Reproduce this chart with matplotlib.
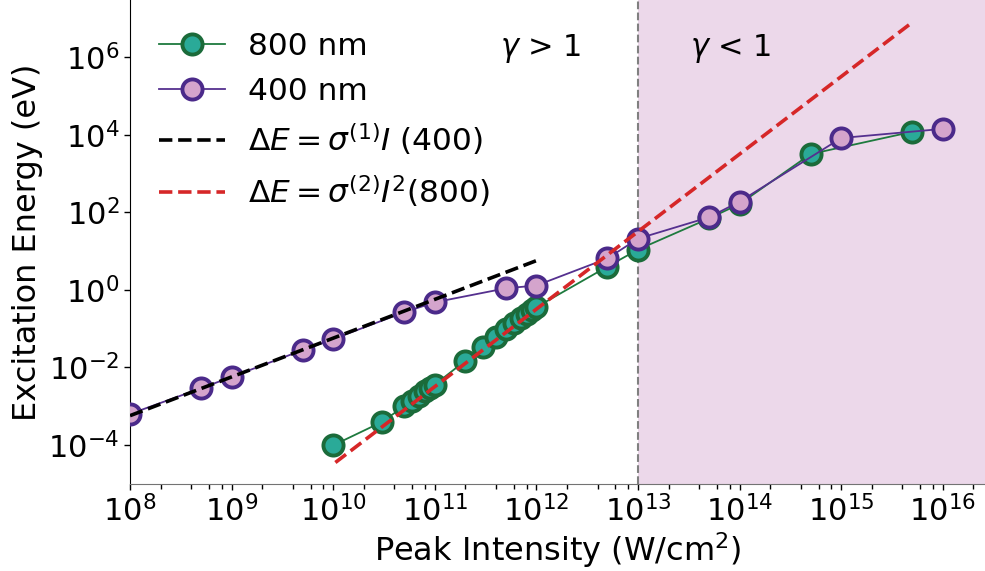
import matplotlib
matplotlib.use("Agg")
from matplotlib import pyplot as plt
from matplotlib.ticker import LogLocator, NullFormatter

# measured excitation energy vs peak intensity, 800 nm pump
intensity_800 = [1e10, 3e10, 5e10, 6e10, 7e10, 8e10, 9e10, 1e11, 2e11, 3e11, 4e11,
                 5e11, 6e11, 7e11, 8e11, 9e11, 1e12, 5e12, 1e13, 5e13, 1e14, 5e14, 5e15]
energy_800 = [9.8e-5, 3.9e-4, 1.0e-3, 1.4e-3, 1.8e-3, 2.4e-3, 2.95e-3, 3.6e-3, 1.5e-2, 3.3e-2, 6.2e-2,
              0.10, 0.14, 0.19, 0.24, 0.30, 0.36, 4.0, 11.0, 70.0, 165.0, 3.2e3, 1.2e4]

# same for 400 nm pump
intensity_400 = [1e8, 5e8, 1e9, 5e9, 1e10, 5e10, 1e11, 5e11, 1e12, 5e12, 1e13, 5e13, 1e14, 1e15, 1e16]
energy_400 = [6.3e-4, 2.9e-3, 5.7e-3, 2.8e-2, 5.4e-2, 0.265, 0.48, 1.1, 1.3, 6.5, 21.0, 75.0, 190.0, 8.3e3, 1.43e4]

# perturbative fits: linear (400 nm) and quadratic (800 nm)
sigma1 = 5.7e-12
sigma2 = 3.2e-25
fit1_range = [1e8, 1.05e12]
fit2_range = [1.05e10, 4.9e15]

gamma_boundary = 1e13

fig = plt.figure(figsize=(9.85, 5.71), dpi=100)
ax = fig.add_axes([0.132, 0.1515, 0.868, 0.8485])

ax.axvspan(gamma_boundary, 1e17, color="#ecd8ea", zorder=0, lw=0)
ax.axvline(gamma_boundary, color="gray", ls="--", lw=1.5, zorder=1)

ax.plot(intensity_800, energy_800, "-o", color="#1e7a3e", lw=1.3, ms=14.5,
        mfc="#2aaa98", mec="#1b6b3a", mew=2.8, label="800 nm", zorder=2)
ax.plot(intensity_400, energy_400, "-o", color="#55308f", lw=1.3, ms=14.5,
        mfc="#d4a4cc", mec="#4b2a8a", mew=2.8, label="400 nm", zorder=3)

ax.plot(fit1_range, [sigma1 * i for i in fit1_range], "--", color="black", lw=2.6,
        label=r"$\Delta E = \sigma^{(1)}I$ (400)", zorder=4)
ax.plot(fit2_range, [sigma2 * i ** 2 for i in fit2_range], "--", color="#d62728", lw=2.6,
        label=r"$\Delta E = \sigma^{(2)}I^2(800)$", zorder=5)

ax.text(1.1e12, 10 ** 6.22, r"$\gamma$ > 1", ha="center", va="center", fontsize=22)
ax.text(8.2e13, 10 ** 6.22, r"$\gamma$ < 1", ha="center", va="center", fontsize=22)

ax.set_xscale("log")
ax.set_yscale("log")
ax.set_xlim(1e8, 2.6e16)
ax.set_ylim(10 ** -5.02, 10 ** 7.48)

ax.set_yticks([1e-4, 1e-2, 1e0, 1e2, 1e4, 1e6])
ax.yaxis.set_minor_locator(plt.NullLocator())
ax.xaxis.set_major_locator(LogLocator(base=10, numticks=20))
ax.xaxis.set_minor_locator(LogLocator(base=10, subs=[2, 4, 6, 8], numticks=20))
ax.xaxis.set_minor_formatter(NullFormatter())

ax.tick_params(which="major", labelsize=22, length=4, width=1)
ax.tick_params(which="minor", length=3.5, width=1)

ax.spines["top"].set_visible(False)
ax.spines["right"].set_visible(False)
ax.spines["bottom"].set_color("0.45")

ax.set_xlabel("Peak Intensity (W/cm$^2$)", fontsize=23, labelpad=2)
ax.set_ylabel("Excitation Energy (eV)", fontsize=23)

ax.legend(loc="upper left", bbox_to_anchor=(0.133, 0.993), bbox_transform=fig.transFigure,
          frameon=False, fontsize=22.5, handlelength=2.1, handletextpad=0.75, labelspacing=0.5)

fig.savefig("out.png", dpi=100)
